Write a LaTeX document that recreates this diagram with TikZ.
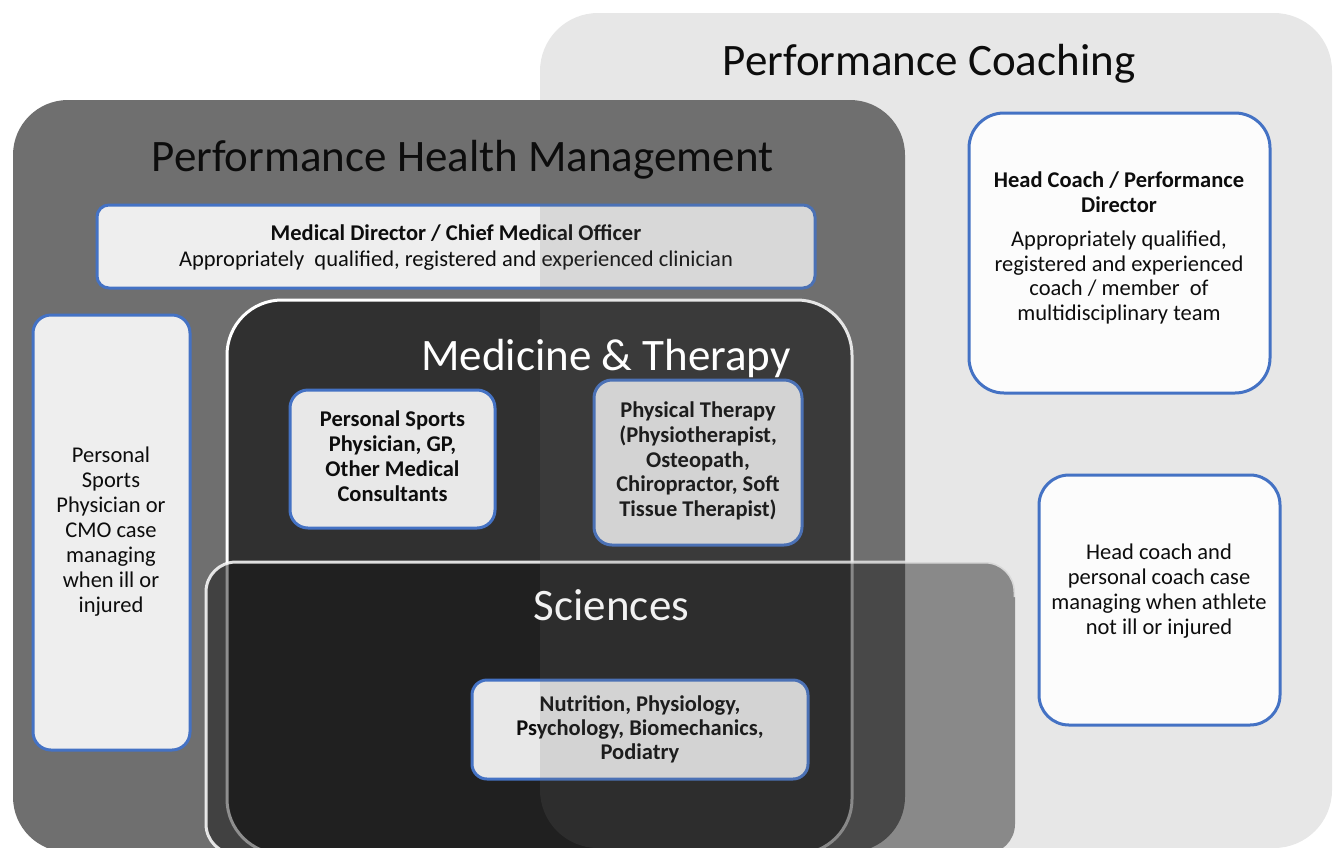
\documentclass[tikz,border=0pt]{standalone}
\usepackage{fontspec}
\setmainfont{Carlito}
\usetikzlibrary{calc}
\definecolor{phmgray}{HTML}{6F6F6F}
\definecolor{medgray}{HTML}{303030}
\definecolor{coachgray}{HTML}{707070}
\definecolor{boxblue}{HTML}{4472C4}
\definecolor{boxfill}{HTML}{EEEEEE}
\definecolor{boxfillb}{HTML}{E8E8E8}
\definecolor{hcfill}{HTML}{FCFCFC}
\definecolor{txt}{HTML}{0D0D0D}
\definecolor{scifill}{HTML}{0F0F0F}
\tikzset{
  area/.style={rectangle, inner sep=0pt, outer sep=0pt},
  rolebox/.style={rectangle, draw=boxblue, line width=3pt, fill=boxfill, inner sep=0pt, outer sep=0pt},
  roletext/.style={inner sep=0pt, align=center, text=txt, font=\fontsize{22.5}{25}\selectfont},
  areatitle/.style={inner sep=0pt, anchor=base, font=\fontsize{45}{54}\selectfont},
}
\begin{document}
\begin{tikzpicture}[x=1pt,y=-1pt]
\useasboundingbox (0,0) rectangle (1333,847);
% Performance Health Management area
\node[area, fill=phmgray, rounded corners=55pt, minimum width=892pt, minimum height=752pt] (phm) at (459,476) {};
% Medical director
\node[rolebox, rounded corners=12pt, minimum width=718pt, minimum height=83pt] (md) at (456,246.5) {};
\node[roletext, font=\fontsize{22.5}{26}\selectfont] (mdt) at (456,248) {\textbf{Medical Director / Chief Medical Officer}\\Appropriately\ \ qualified, registered and experienced clinician};
% Left case managing box
\node[rolebox, rounded corners=18pt, minimum width=157pt, minimum height=435pt] (cm) at (111.5,532.5) {};
\node[roletext] (cmt) at (111,532) {Personal\\Sports\\Physician or\\CMO case\\managing\\when ill or\\injured};
% Medicine & Therapy area
\node[area, fill=medgray, draw=white, line width=3pt, rounded corners=55pt, minimum width=625pt, minimum height=554pt] (mt) at (539.5,577) {};
\node[rolebox, fill=boxfillb, rounded corners=18pt, minimum width=205pt, minimum height=138pt] (psp) at (392.5,459) {};
\node[roletext, font=\bfseries\fontsize{22.5}{25}\selectfont] (pspt) at (392.5,456) {Personal Sports\\Physician, GP,\\Other Medical\\Consultants};
\node[rolebox, fill=boxfillb, rounded corners=18pt, minimum width=208pt, minimum height=165pt] (pt) at (698,462.5) {};
\node[roletext, font=\bfseries\fontsize{22.5}{24.75}\selectfont] (ptt) at (698,461) {Physical Therapy\\(Physiotherapist,\\Osteopath,\\Chiropractor, Soft\\Tissue Therapist)};
% Sciences area
\node[area, fill=scifill, fill opacity=0.47, rounded corners=30pt, minimum width=809pt, minimum height=292pt] (sci) at (610.5,708) {};
\draw[white, draw opacity=0.85, line width=3pt, rounded corners=30pt] ($(sci.south west)+(45,0)$) -- (sci.south west) -- (sci.north west) -- (sci.north east) -- ($(sci.north east)+(0,35)$);
\node[rolebox, fill=boxfillb, rounded corners=15pt, minimum width=336pt, minimum height=99pt] (nut) at (640,729.5) {};
\node[roletext, font=\bfseries\fontsize{22.5}{24}\selectfont] (nutt) at (640,729) {Nutrition, Physiology,\\Psychology, Biomechanics,\\Podiatry};
% Performance Coaching area (translucent layer)
\node[area, fill=coachgray, fill opacity=0.17, rounded corners=58pt, minimum width=792pt, minimum height=835pt] (pc) at (936,430.5) {};
% Head coach boxes
\node[rolebox, fill=hcfill, rounded corners=35pt, minimum width=301pt, minimum height=280pt] (hc) at (1119.5,253) {};
\node[roletext, font=\fontsize{22.5}{24.5}\selectfont] (hct) at (1119,248) {\textbf{Head Coach / Performance}\\\textbf{Director}\\[10pt]Appropriately qualified,\\registered and experienced\\coach / member\ \ of\\multidisciplinary team};
\node[rolebox, fill=hcfill, rounded corners=30pt, minimum width=241pt, minimum height=250pt] (hc2) at (1159.5,600) {};
\node[roletext] (hc2t) at (1159,591.5) {Head coach and\\personal coach case\\managing when athlete\\not ill or injured};
% Titles
\node[areatitle, text=txt] (pctitle) at (929,75) {Performance Coaching};
\node[areatitle, text=txt] (phmtitle) at (462.5,171) {Performance Health Management};
\node[areatitle, text=white] (mttitle) at (606,370) {Medicine \& Therapy};
\node[areatitle, text=white!95!black] (scititle) at (611.5,620) {Sciences};
\end{tikzpicture}
\end{document}
